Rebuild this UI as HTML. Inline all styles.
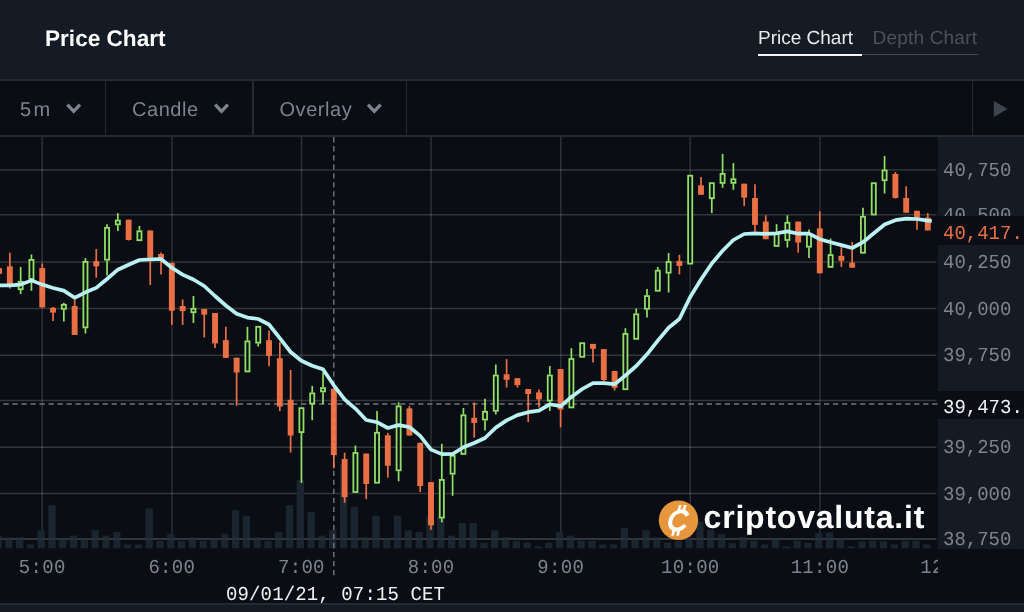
<!DOCTYPE html>
<html lang="en"><head><meta charset="utf-8"><title>Price Chart</title>
<style>
*{box-sizing:border-box;margin:0;padding:0}
html,body{width:1024px;height:612px;overflow:hidden;background:#0a0e14;}
body{position:relative;font-family:"Liberation Sans",sans-serif;color:#fff;text-rendering:geometricPrecision}
.hdr{position:absolute;left:0;top:0;width:1024px;height:79px;background:#151b24}
.hline{position:absolute;left:0;top:78.9px;width:1024px;height:2.1px;background:#262b33}
.title{position:absolute;left:45px;top:26.3px;font-size:22.6px;font-weight:700;line-height:26px;letter-spacing:0;color:#fdfdfd;white-space:nowrap}
.tab{position:absolute;top:26.5px;font-size:19px;line-height:24px;white-space:nowrap}
.t1{left:758px;color:#e9eaeb}
.t2{left:872.5px;color:#4b5159;letter-spacing:0.2px}
.ul1{position:absolute;left:758px;top:53.6px;width:104px;height:2px;background:#f4f4f4}
.ul2{position:absolute;left:862px;top:54.3px;width:115.5px;height:1.2px;background:#454b53}
.tb{position:absolute;left:0;top:80px;width:1024px;height:56px;background:#0a0e14}
.tbline{position:absolute;left:0;top:134.8px;width:1024px;height:2.1px;background:#252a31}
.dv{position:absolute;top:80px;width:1.7px;height:56px;background:#262b32}
.tt{position:absolute;top:96.5px;font-size:20px;line-height:26px;letter-spacing:0.55px;color:#7e848d;white-space:nowrap}
.axr{position:absolute;left:937.6px;top:137px;width:87px;height:411.7px;background:#161b23;overflow:hidden}
.pl,.tl,.cur,.xh,.dt{text-rendering:geometricPrecision;font-family:"Liberation Mono",monospace;font-size:19px;line-height:22px;white-space:nowrap;position:absolute}
.pl,.tl,.dt,.cur span,.xh span{transform:scaleY(1.045);transform-origin:50% 50%}
.cur span,.xh span{display:inline-block}
.pl{left:943px;color:#7e848d}
.tl{top:9.0px;letter-spacing:0.3px;width:80px;text-align:center;color:#7e848d}
.cur{left:937.5px;top:216px;width:87px;height:28.6px;background:#0a0e14;color:#ea6f44;padding:6.5px 0 0 5.5px}
.xh{left:937.5px;top:390.6px;width:87px;height:28.4px;background:#0a0e14;color:#f2f2f2;padding:6.2px 0 0 5.5px}
.dt{left:226px;top:583.5px;letter-spacing:0.13px;color:#f2f2f2}
.bot{position:absolute;left:0;top:602.8px;width:1024px;height:9.2px;background:#151b24;border-top:2.1px solid #252a32}
.clip{position:absolute;left:0;top:548px;width:937.5px;height:55px;overflow:hidden}
.logo{position:absolute;left:703.6px;top:499.1px;font-size:32px;font-weight:700;line-height:36px;letter-spacing:0.78px;color:#fff;white-space:nowrap}
svg{position:absolute;left:0;top:0}
</style></head>
<body>
<div class="hdr"></div>
<div class="title">Price Chart</div>
<div class="tab t1">Price Chart</div>
<div class="tab t2">Depth Chart</div>
<div class="ul2"></div><div class="ul1"></div>
<div class="tb"></div>
<div class="dv" style="left:104.5px"></div>
<div class="dv" style="left:252.2px"></div>
<div class="dv" style="left:405.6px"></div>
<div class="dv" style="left:971.8px"></div>
<div class="tt" style="left:20px;letter-spacing:2.3px">5m</div>
<div class="tt" style="left:132px">Candle</div>
<div class="tt" style="left:279.5px">Overlay</div>
<div class="tbline"></div>
<div class="hline"></div>
<div class="axr"></div>
<div class="pl" style="top:160.05px">40,750</div>
<div class="pl" style="top:204.95px">40,500</div>
<div class="pl" style="top:252.05px">40,250</div>
<div class="pl" style="top:298.75px">40,000</div>
<div class="pl" style="top:345.45px">39,750</div>
<div class="pl" style="top:390.65px">39,500</div>
<div class="pl" style="top:437.45px">39,250</div>
<div class="pl" style="top:483.65px">39,000</div>
<div class="pl" style="top:529.15px">38,750</div>
<svg width="1024" height="612" viewBox="0 0 1024 612">
<line x1="0" x2="936.5" y1="169.9" y2="169.9" stroke="#fff" stroke-opacity="0.165" stroke-width="1.5"/>
<line x1="0" x2="936.5" y1="214.8" y2="214.8" stroke="#fff" stroke-opacity="0.165" stroke-width="1.5"/>
<line x1="0" x2="936.5" y1="261.9" y2="261.9" stroke="#fff" stroke-opacity="0.165" stroke-width="1.5"/>
<line x1="0" x2="936.5" y1="308.6" y2="308.6" stroke="#fff" stroke-opacity="0.165" stroke-width="1.5"/>
<line x1="0" x2="936.5" y1="355.3" y2="355.3" stroke="#fff" stroke-opacity="0.165" stroke-width="1.5"/>
<line x1="0" x2="936.5" y1="400.5" y2="400.5" stroke="#fff" stroke-opacity="0.165" stroke-width="1.5"/>
<line x1="0" x2="936.5" y1="447.3" y2="447.3" stroke="#fff" stroke-opacity="0.165" stroke-width="1.5"/>
<line x1="0" x2="936.5" y1="493.5" y2="493.5" stroke="#fff" stroke-opacity="0.165" stroke-width="1.5"/>
<line x1="0" x2="936.5" y1="539.0" y2="539.0" stroke="#fff" stroke-opacity="0.165" stroke-width="1.5"/>
<line x1="42.2" x2="42.2" y1="137" y2="548" stroke="#fff" stroke-opacity="0.145" stroke-width="1.5"/>
<line x1="172.0" x2="172.0" y1="137" y2="548" stroke="#fff" stroke-opacity="0.145" stroke-width="1.5"/>
<line x1="301.5" x2="301.5" y1="137" y2="548" stroke="#fff" stroke-opacity="0.145" stroke-width="1.5"/>
<line x1="431.0" x2="431.0" y1="137" y2="548" stroke="#fff" stroke-opacity="0.145" stroke-width="1.5"/>
<line x1="560.8" x2="560.8" y1="137" y2="548" stroke="#fff" stroke-opacity="0.145" stroke-width="1.5"/>
<line x1="690.2" x2="690.2" y1="137" y2="548" stroke="#fff" stroke-opacity="0.145" stroke-width="1.5"/>
<line x1="819.9" x2="819.9" y1="137" y2="548" stroke="#fff" stroke-opacity="0.145" stroke-width="1.5"/>
<rect x="-5.65" y="535.6" width="7.3" height="12.7" fill="#1b2530"/>
<rect x="5.15" y="537.3" width="7.3" height="11.0" fill="#1b2530"/>
<rect x="15.95" y="537.3" width="7.3" height="11.0" fill="#1b2530"/>
<rect x="26.75" y="544.5" width="7.3" height="3.8" fill="#1b2530"/>
<rect x="37.55" y="530.2" width="7.3" height="18.1" fill="#1b2530"/>
<rect x="48.35" y="505.2" width="7.3" height="43.1" fill="#1b2530"/>
<rect x="59.15" y="539.1" width="7.3" height="9.2" fill="#1b2530"/>
<rect x="69.95" y="535.6" width="7.3" height="12.7" fill="#1b2530"/>
<rect x="80.75" y="539.1" width="7.3" height="9.2" fill="#1b2530"/>
<rect x="91.55" y="530.2" width="7.3" height="18.1" fill="#1b2530"/>
<rect x="102.34" y="535.6" width="7.3" height="12.7" fill="#1b2530"/>
<rect x="113.14" y="532.1" width="7.3" height="16.2" fill="#1b2530"/>
<rect x="123.94" y="544.5" width="7.3" height="3.8" fill="#1b2530"/>
<rect x="134.74" y="544.5" width="7.3" height="3.8" fill="#1b2530"/>
<rect x="145.54" y="508.2" width="7.3" height="40.1" fill="#1b2530"/>
<rect x="156.34" y="541" width="7.3" height="7.3" fill="#1b2530"/>
<rect x="167.14" y="533.7" width="7.3" height="14.6" fill="#1b2530"/>
<rect x="177.94" y="541" width="7.3" height="7.3" fill="#1b2530"/>
<rect x="188.74" y="537.3" width="7.3" height="11.0" fill="#1b2530"/>
<rect x="199.53" y="541" width="7.3" height="7.3" fill="#1b2530"/>
<rect x="210.33" y="539.1" width="7.3" height="9.2" fill="#1b2530"/>
<rect x="221.13" y="533.7" width="7.3" height="14.6" fill="#1b2530"/>
<rect x="231.93" y="510.3" width="7.3" height="38.0" fill="#1b2530"/>
<rect x="242.73" y="515.7" width="7.3" height="32.6" fill="#1b2530"/>
<rect x="253.53" y="537.3" width="7.3" height="11.0" fill="#1b2530"/>
<rect x="264.33" y="541" width="7.3" height="7.3" fill="#1b2530"/>
<rect x="275.13" y="532.1" width="7.3" height="16.2" fill="#1b2530"/>
<rect x="285.93" y="505.2" width="7.3" height="43.1" fill="#1b2530"/>
<rect x="296.73" y="479.8" width="7.3" height="68.5" fill="#1b2530"/>
<rect x="307.52" y="512.2" width="7.3" height="36.1" fill="#1b2530"/>
<rect x="318.32" y="535.6" width="7.3" height="12.7" fill="#1b2530"/>
<rect x="329.12" y="530.2" width="7.3" height="18.1" fill="#1b2530"/>
<rect x="339.92" y="464" width="7.3" height="84.3" fill="#1b2530"/>
<rect x="350.72" y="506.8" width="7.3" height="41.5" fill="#1b2530"/>
<rect x="361.52" y="537.3" width="7.3" height="11.0" fill="#1b2530"/>
<rect x="372.32" y="515.7" width="7.3" height="32.6" fill="#1b2530"/>
<rect x="383.12" y="539.1" width="7.3" height="9.2" fill="#1b2530"/>
<rect x="393.92" y="515.7" width="7.3" height="32.6" fill="#1b2530"/>
<rect x="404.72" y="530.2" width="7.3" height="18.1" fill="#1b2530"/>
<rect x="415.51" y="532.1" width="7.3" height="16.2" fill="#1b2530"/>
<rect x="426.31" y="515.5" width="7.3" height="32.8" fill="#1b2530"/>
<rect x="437.11" y="515.5" width="7.3" height="32.8" fill="#1b2530"/>
<rect x="447.91" y="535.6" width="7.3" height="12.7" fill="#1b2530"/>
<rect x="458.71" y="523" width="7.3" height="25.3" fill="#1b2530"/>
<rect x="469.51" y="523" width="7.3" height="25.3" fill="#1b2530"/>
<rect x="480.31" y="542.6" width="7.3" height="5.7" fill="#1b2530"/>
<rect x="491.11" y="530.2" width="7.3" height="18.1" fill="#1b2530"/>
<rect x="501.91" y="537.3" width="7.3" height="11.0" fill="#1b2530"/>
<rect x="512.71" y="541" width="7.3" height="7.3" fill="#1b2530"/>
<rect x="523.50" y="542.6" width="7.3" height="5.7" fill="#1b2530"/>
<rect x="534.30" y="546.2" width="7.3" height="2.1" fill="#1b2530"/>
<rect x="545.10" y="542.6" width="7.3" height="5.7" fill="#1b2530"/>
<rect x="555.90" y="532.1" width="7.3" height="16.2" fill="#1b2530"/>
<rect x="566.70" y="535.6" width="7.3" height="12.7" fill="#1b2530"/>
<rect x="577.50" y="541" width="7.3" height="7.3" fill="#1b2530"/>
<rect x="588.30" y="541" width="7.3" height="7.3" fill="#1b2530"/>
<rect x="599.10" y="544.5" width="7.3" height="3.8" fill="#1b2530"/>
<rect x="609.90" y="544.5" width="7.3" height="3.8" fill="#1b2530"/>
<rect x="620.70" y="528.1" width="7.3" height="20.2" fill="#1b2530"/>
<rect x="631.49" y="539.1" width="7.3" height="9.2" fill="#1b2530"/>
<rect x="642.29" y="530.2" width="7.3" height="18.1" fill="#1b2530"/>
<rect x="653.09" y="537.3" width="7.3" height="11.0" fill="#1b2530"/>
<rect x="663.89" y="542.6" width="7.3" height="5.7" fill="#1b2530"/>
<rect x="674.69" y="541" width="7.3" height="7.3" fill="#1b2530"/>
<rect x="685.49" y="538" width="7.3" height="10.3" fill="#1b2530"/>
<rect x="696.29" y="521.5" width="7.3" height="26.8" fill="#1b2530"/>
<rect x="707.09" y="529.8" width="7.3" height="18.5" fill="#1b2530"/>
<rect x="717.89" y="534" width="7.3" height="14.3" fill="#1b2530"/>
<rect x="728.69" y="543.2" width="7.3" height="5.1" fill="#1b2530"/>
<rect x="739.48" y="537.1" width="7.3" height="11.2" fill="#1b2530"/>
<rect x="750.28" y="540.8" width="7.3" height="7.5" fill="#1b2530"/>
<rect x="761.08" y="544.5" width="7.3" height="3.8" fill="#1b2530"/>
<rect x="771.88" y="539.1" width="7.3" height="9.2" fill="#1b2530"/>
<rect x="782.68" y="546.4" width="7.3" height="1.9" fill="#1b2530"/>
<rect x="793.48" y="540.8" width="7.3" height="7.5" fill="#1b2530"/>
<rect x="804.28" y="542.8" width="7.3" height="5.5" fill="#1b2530"/>
<rect x="815.08" y="533" width="7.3" height="15.3" fill="#1b2530"/>
<rect x="825.88" y="532.3" width="7.3" height="16.0" fill="#1b2530"/>
<rect x="836.68" y="539.1" width="7.3" height="9.2" fill="#1b2530"/>
<rect x="847.47" y="546.2" width="7.3" height="2.1" fill="#1b2530"/>
<rect x="858.27" y="541.5" width="7.3" height="6.8" fill="#1b2530"/>
<rect x="869.07" y="540.8" width="7.3" height="7.5" fill="#1b2530"/>
<rect x="879.87" y="541.5" width="7.3" height="6.8" fill="#1b2530"/>
<rect x="890.67" y="544.5" width="7.3" height="3.8" fill="#1b2530"/>
<rect x="901.47" y="540.8" width="7.3" height="7.5" fill="#1b2530"/>
<rect x="912.27" y="540.8" width="7.3" height="7.5" fill="#1b2530"/>
<rect x="923.07" y="544.5" width="7.3" height="3.8" fill="#1b2530"/>
<line x1="0" x2="936.5" y1="539" y2="539" stroke="#ffffff" stroke-opacity="0.07" stroke-width="1.3"/>
<line x1="333.8" x2="333.8" y1="137.1" y2="575.3" stroke="#5d6269" stroke-width="1.4" stroke-dasharray="5.3 3.717"/>
<line x1="3.4" x2="937.6" y1="404" y2="404" stroke="#5d6269" stroke-width="1.4" stroke-dasharray="5.3 3.717"/>
<line x1="-0.95" x2="-0.95" y1="268.1" y2="273.8" stroke="#ea6f44" stroke-width="1.7"/>
<rect x="-3.90" y="268.1" width="5.9" height="5.7" fill="#ea6f44"/>
<line x1="9.85" x2="9.85" y1="252.7" y2="288.5" stroke="#ea6f44" stroke-width="1.7"/>
<rect x="6.90" y="266.3" width="5.9" height="20.7" fill="#ea6f44"/>
<line x1="20.65" x2="20.65" y1="267" y2="281" stroke="#90e066" stroke-width="1.7"/>
<line x1="20.65" x2="20.65" y1="290" y2="294" stroke="#90e066" stroke-width="1.7"/>
<rect x="18.60" y="281.8" width="4.1" height="7.4" fill="#0a0e14" stroke="#90e066" stroke-width="1.8"/>
<line x1="31.45" x2="31.45" y1="254.5" y2="259.1" stroke="#90e066" stroke-width="1.7"/>
<line x1="31.45" x2="31.45" y1="279.7" y2="290.8" stroke="#90e066" stroke-width="1.7"/>
<rect x="29.40" y="259.9" width="4.1" height="19.0" fill="#0a0e14" stroke="#90e066" stroke-width="1.8"/>
<line x1="42.25" x2="42.25" y1="263.5" y2="307.4" stroke="#ea6f44" stroke-width="1.7"/>
<rect x="39.30" y="268.1" width="5.9" height="39.3" fill="#ea6f44"/>
<line x1="53.05" x2="53.05" y1="307" y2="321" stroke="#ea6f44" stroke-width="1.7"/>
<rect x="50.10" y="307.8" width="5.9" height="4.8" fill="#ea6f44"/>
<line x1="63.85" x2="63.85" y1="302.7" y2="304" stroke="#90e066" stroke-width="1.7"/>
<line x1="63.85" x2="63.85" y1="309.6" y2="321.4" stroke="#90e066" stroke-width="1.7"/>
<rect x="61.80" y="304.8" width="4.1" height="4.0" fill="#0a0e14" stroke="#90e066" stroke-width="1.8"/>
<line x1="74.65" x2="74.65" y1="299.8" y2="335" stroke="#ea6f44" stroke-width="1.7"/>
<rect x="71.70" y="306" width="5.9" height="29.0" fill="#ea6f44"/>
<line x1="85.45" x2="85.45" y1="258.1" y2="261.1" stroke="#90e066" stroke-width="1.7"/>
<line x1="85.45" x2="85.45" y1="328.2" y2="333.5" stroke="#90e066" stroke-width="1.7"/>
<rect x="83.40" y="261.9" width="4.1" height="65.5" fill="#0a0e14" stroke="#90e066" stroke-width="1.8"/>
<line x1="96.25" x2="96.25" y1="249" y2="277.7" stroke="#ea6f44" stroke-width="1.7"/>
<rect x="93.30" y="261.1" width="5.9" height="5.2" fill="#ea6f44"/>
<line x1="107.04" x2="107.04" y1="224.2" y2="227" stroke="#90e066" stroke-width="1.7"/>
<line x1="107.04" x2="107.04" y1="260.5" y2="275.6" stroke="#90e066" stroke-width="1.7"/>
<rect x="104.99" y="227.8" width="4.1" height="31.9" fill="#0a0e14" stroke="#90e066" stroke-width="1.8"/>
<line x1="117.84" x2="117.84" y1="213.2" y2="219.7" stroke="#90e066" stroke-width="1.7"/>
<line x1="117.84" x2="117.84" y1="225.2" y2="231" stroke="#90e066" stroke-width="1.7"/>
<rect x="115.79" y="220.5" width="4.1" height="3.9" fill="#0a0e14" stroke="#90e066" stroke-width="1.8"/>
<line x1="128.64" x2="128.64" y1="219.7" y2="240.5" stroke="#ea6f44" stroke-width="1.7"/>
<rect x="125.69" y="219.7" width="5.9" height="20.3" fill="#ea6f44"/>
<line x1="139.44" x2="139.44" y1="226" y2="230.5" stroke="#90e066" stroke-width="1.7"/>
<rect x="137.39" y="231.3" width="4.1" height="8.9" fill="#0a0e14" stroke="#90e066" stroke-width="1.8"/>
<line x1="150.24" x2="150.24" y1="230.5" y2="285" stroke="#ea6f44" stroke-width="1.7"/>
<rect x="147.29" y="230.5" width="5.9" height="27.0" fill="#ea6f44"/>
<line x1="161.04" x2="161.04" y1="252.6" y2="274.6" stroke="#ea6f44" stroke-width="1.7"/>
<rect x="158.09" y="254" width="5.9" height="4.3" fill="#ea6f44"/>
<line x1="171.84" x2="171.84" y1="262.8" y2="324.9" stroke="#ea6f44" stroke-width="1.7"/>
<rect x="168.89" y="262.8" width="5.9" height="47.9" fill="#ea6f44"/>
<line x1="182.64" x2="182.64" y1="299.5" y2="324.9" stroke="#ea6f44" stroke-width="1.7"/>
<rect x="179.69" y="306" width="5.9" height="5.1" fill="#ea6f44"/>
<line x1="193.44" x2="193.44" y1="296" y2="308" stroke="#90e066" stroke-width="1.7"/>
<line x1="193.44" x2="193.44" y1="313" y2="323" stroke="#90e066" stroke-width="1.7"/>
<rect x="191.39" y="308.8" width="4.1" height="3.4" fill="#0a0e14" stroke="#90e066" stroke-width="1.8"/>
<line x1="204.23" x2="204.23" y1="309" y2="337.5" stroke="#ea6f44" stroke-width="1.7"/>
<rect x="201.28" y="309" width="5.9" height="5.6" fill="#ea6f44"/>
<line x1="215.03" x2="215.03" y1="313" y2="348.1" stroke="#ea6f44" stroke-width="1.7"/>
<rect x="212.08" y="313" width="5.9" height="30.4" fill="#ea6f44"/>
<line x1="225.83" x2="225.83" y1="326.8" y2="357.9" stroke="#ea6f44" stroke-width="1.7"/>
<rect x="222.88" y="340.1" width="5.9" height="17.8" fill="#ea6f44"/>
<line x1="236.63" x2="236.63" y1="357.7" y2="405.8" stroke="#ea6f44" stroke-width="1.7"/>
<rect x="233.68" y="357.7" width="5.9" height="14.8" fill="#ea6f44"/>
<line x1="247.43" x2="247.43" y1="326.9" y2="340.6" stroke="#90e066" stroke-width="1.7"/>
<rect x="245.38" y="341.4" width="4.1" height="30.0" fill="#0a0e14" stroke="#90e066" stroke-width="1.8"/>
<line x1="258.23" x2="258.23" y1="343.5" y2="346.5" stroke="#90e066" stroke-width="1.7"/>
<rect x="256.18" y="326.8" width="4.1" height="15.9" fill="#0a0e14" stroke="#90e066" stroke-width="1.8"/>
<line x1="269.03" x2="269.03" y1="330.4" y2="366.3" stroke="#ea6f44" stroke-width="1.7"/>
<rect x="266.08" y="340.2" width="5.9" height="15.7" fill="#ea6f44"/>
<line x1="279.83" x2="279.83" y1="342.2" y2="411.1" stroke="#ea6f44" stroke-width="1.7"/>
<rect x="276.88" y="358.2" width="5.9" height="48.3" fill="#ea6f44"/>
<line x1="290.63" x2="290.63" y1="370" y2="452.5" stroke="#ea6f44" stroke-width="1.7"/>
<rect x="287.68" y="399.8" width="5.9" height="35.7" fill="#ea6f44"/>
<line x1="301.43" x2="301.43" y1="432.9" y2="482.9" stroke="#90e066" stroke-width="1.7"/>
<rect x="299.38" y="408.2" width="4.1" height="23.9" fill="#0a0e14" stroke="#90e066" stroke-width="1.8"/>
<line x1="312.22" x2="312.22" y1="385.9" y2="392.6" stroke="#90e066" stroke-width="1.7"/>
<line x1="312.22" x2="312.22" y1="404.4" y2="420.2" stroke="#90e066" stroke-width="1.7"/>
<rect x="310.17" y="393.4" width="4.1" height="10.2" fill="#0a0e14" stroke="#90e066" stroke-width="1.8"/>
<line x1="323.02" x2="323.02" y1="372.5" y2="387.3" stroke="#90e066" stroke-width="1.7"/>
<line x1="323.02" x2="323.02" y1="392.2" y2="403.9" stroke="#90e066" stroke-width="1.7"/>
<rect x="320.97" y="388.1" width="4.1" height="3.3" fill="#0a0e14" stroke="#90e066" stroke-width="1.8"/>
<line x1="333.82" x2="333.82" y1="388.7" y2="468.3" stroke="#ea6f44" stroke-width="1.7"/>
<rect x="330.87" y="388.7" width="5.9" height="66.4" fill="#ea6f44"/>
<line x1="344.62" x2="344.62" y1="452.6" y2="502.7" stroke="#ea6f44" stroke-width="1.7"/>
<rect x="341.67" y="459" width="5.9" height="38.2" fill="#ea6f44"/>
<line x1="355.42" x2="355.42" y1="445.5" y2="452.2" stroke="#90e066" stroke-width="1.7"/>
<rect x="353.37" y="453.0" width="4.1" height="39.0" fill="#0a0e14" stroke="#90e066" stroke-width="1.8"/>
<line x1="366.22" x2="366.22" y1="453.6" y2="499.2" stroke="#ea6f44" stroke-width="1.7"/>
<rect x="363.27" y="453.6" width="5.9" height="30.4" fill="#ea6f44"/>
<line x1="377.02" x2="377.02" y1="411.1" y2="432" stroke="#90e066" stroke-width="1.7"/>
<rect x="374.97" y="432.8" width="4.1" height="49.9" fill="#0a0e14" stroke="#90e066" stroke-width="1.8"/>
<line x1="387.82" x2="387.82" y1="432.9" y2="477.6" stroke="#ea6f44" stroke-width="1.7"/>
<rect x="384.87" y="435.3" width="5.9" height="30.4" fill="#ea6f44"/>
<line x1="398.62" x2="398.62" y1="402.3" y2="405.6" stroke="#90e066" stroke-width="1.7"/>
<line x1="398.62" x2="398.62" y1="471.1" y2="481.3" stroke="#90e066" stroke-width="1.7"/>
<rect x="396.57" y="406.4" width="4.1" height="63.9" fill="#0a0e14" stroke="#90e066" stroke-width="1.8"/>
<line x1="409.42" x2="409.42" y1="406.1" y2="435.5" stroke="#ea6f44" stroke-width="1.7"/>
<rect x="406.47" y="408.4" width="5.9" height="27.1" fill="#ea6f44"/>
<line x1="420.21" x2="420.21" y1="442.8" y2="492.1" stroke="#ea6f44" stroke-width="1.7"/>
<rect x="417.26" y="442.8" width="5.9" height="43.2" fill="#ea6f44"/>
<line x1="431.01" x2="431.01" y1="482.1" y2="529.8" stroke="#ea6f44" stroke-width="1.7"/>
<rect x="428.06" y="482.1" width="5.9" height="43.2" fill="#ea6f44"/>
<line x1="441.81" x2="441.81" y1="443.8" y2="479.1" stroke="#90e066" stroke-width="1.7"/>
<line x1="441.81" x2="441.81" y1="518.4" y2="522.4" stroke="#90e066" stroke-width="1.7"/>
<rect x="439.76" y="479.9" width="4.1" height="37.7" fill="#0a0e14" stroke="#90e066" stroke-width="1.8"/>
<line x1="452.61" x2="452.61" y1="453" y2="455" stroke="#90e066" stroke-width="1.7"/>
<line x1="452.61" x2="452.61" y1="474.5" y2="495.8" stroke="#90e066" stroke-width="1.7"/>
<rect x="450.56" y="455.8" width="4.1" height="17.9" fill="#0a0e14" stroke="#90e066" stroke-width="1.8"/>
<line x1="463.41" x2="463.41" y1="408" y2="414.5" stroke="#90e066" stroke-width="1.7"/>
<rect x="461.36" y="415.3" width="4.1" height="38.6" fill="#0a0e14" stroke="#90e066" stroke-width="1.8"/>
<line x1="474.21" x2="474.21" y1="402.4" y2="437.6" stroke="#ea6f44" stroke-width="1.7"/>
<rect x="471.26" y="417.8" width="5.9" height="5.1" fill="#ea6f44"/>
<line x1="485.01" x2="485.01" y1="398.8" y2="411" stroke="#90e066" stroke-width="1.7"/>
<line x1="485.01" x2="485.01" y1="420.4" y2="430.6" stroke="#90e066" stroke-width="1.7"/>
<rect x="482.96" y="411.8" width="4.1" height="7.8" fill="#0a0e14" stroke="#90e066" stroke-width="1.8"/>
<line x1="495.81" x2="495.81" y1="364.5" y2="374.7" stroke="#90e066" stroke-width="1.7"/>
<line x1="495.81" x2="495.81" y1="411.6" y2="414.5" stroke="#90e066" stroke-width="1.7"/>
<rect x="493.76" y="375.5" width="4.1" height="35.3" fill="#0a0e14" stroke="#90e066" stroke-width="1.8"/>
<line x1="506.61" x2="506.61" y1="359.2" y2="387.6" stroke="#ea6f44" stroke-width="1.7"/>
<rect x="503.66" y="374.3" width="5.9" height="5.5" fill="#ea6f44"/>
<line x1="517.41" x2="517.41" y1="378.2" y2="387.6" stroke="#ea6f44" stroke-width="1.7"/>
<rect x="514.46" y="378.2" width="5.9" height="6.9" fill="#ea6f44"/>
<line x1="528.20" x2="528.20" y1="389" y2="422" stroke="#ea6f44" stroke-width="1.7"/>
<rect x="525.25" y="389" width="5.9" height="5.0" fill="#ea6f44"/>
<line x1="539.00" x2="539.00" y1="389.6" y2="407.6" stroke="#ea6f44" stroke-width="1.7"/>
<rect x="536.05" y="392.4" width="5.9" height="7.0" fill="#ea6f44"/>
<line x1="549.80" x2="549.80" y1="366.1" y2="374.7" stroke="#90e066" stroke-width="1.7"/>
<line x1="549.80" x2="549.80" y1="401.4" y2="411" stroke="#90e066" stroke-width="1.7"/>
<rect x="547.75" y="375.5" width="4.1" height="25.1" fill="#0a0e14" stroke="#90e066" stroke-width="1.8"/>
<line x1="560.60" x2="560.60" y1="369" y2="427.3" stroke="#ea6f44" stroke-width="1.7"/>
<rect x="557.65" y="369" width="5.9" height="40.6" fill="#ea6f44"/>
<line x1="571.40" x2="571.40" y1="348.2" y2="358.2" stroke="#90e066" stroke-width="1.7"/>
<rect x="569.35" y="359.0" width="4.1" height="48.4" fill="#0a0e14" stroke="#90e066" stroke-width="1.8"/>
<rect x="580.15" y="343.2" width="4.1" height="13.6" fill="#0a0e14" stroke="#90e066" stroke-width="1.8"/>
<line x1="593.00" x2="593.00" y1="343.9" y2="362.5" stroke="#ea6f44" stroke-width="1.7"/>
<rect x="590.05" y="343.9" width="5.9" height="4.9" fill="#ea6f44"/>
<line x1="603.80" x2="603.80" y1="349.1" y2="381.6" stroke="#ea6f44" stroke-width="1.7"/>
<rect x="600.85" y="349.1" width="5.9" height="30.9" fill="#ea6f44"/>
<line x1="614.60" x2="614.60" y1="371" y2="390.5" stroke="#ea6f44" stroke-width="1.7"/>
<rect x="611.65" y="371" width="5.9" height="16.8" fill="#ea6f44"/>
<line x1="625.40" x2="625.40" y1="328.2" y2="333.1" stroke="#90e066" stroke-width="1.7"/>
<rect x="623.35" y="333.9" width="4.1" height="55.3" fill="#0a0e14" stroke="#90e066" stroke-width="1.8"/>
<line x1="636.19" x2="636.19" y1="308.6" y2="313.5" stroke="#90e066" stroke-width="1.7"/>
<rect x="634.14" y="314.3" width="4.1" height="24.5" fill="#0a0e14" stroke="#90e066" stroke-width="1.8"/>
<line x1="646.99" x2="646.99" y1="288.9" y2="295.3" stroke="#90e066" stroke-width="1.7"/>
<line x1="646.99" x2="646.99" y1="309.6" y2="317.6" stroke="#90e066" stroke-width="1.7"/>
<rect x="644.94" y="296.1" width="4.1" height="12.7" fill="#0a0e14" stroke="#90e066" stroke-width="1.8"/>
<line x1="657.79" x2="657.79" y1="267" y2="269.9" stroke="#90e066" stroke-width="1.7"/>
<rect x="655.74" y="270.7" width="4.1" height="20.0" fill="#0a0e14" stroke="#90e066" stroke-width="1.8"/>
<line x1="668.59" x2="668.59" y1="253" y2="261.2" stroke="#90e066" stroke-width="1.7"/>
<line x1="668.59" x2="668.59" y1="273.5" y2="292.5" stroke="#90e066" stroke-width="1.7"/>
<rect x="666.54" y="262.0" width="4.1" height="10.7" fill="#0a0e14" stroke="#90e066" stroke-width="1.8"/>
<line x1="679.39" x2="679.39" y1="254.8" y2="274.4" stroke="#ea6f44" stroke-width="1.7"/>
<rect x="676.44" y="260.9" width="5.9" height="5.0" fill="#ea6f44"/>
<rect x="688.14" y="175.7" width="4.1" height="87.9" fill="#0a0e14" stroke="#90e066" stroke-width="1.8"/>
<line x1="700.99" x2="700.99" y1="177" y2="194.7" stroke="#ea6f44" stroke-width="1.7"/>
<rect x="698.04" y="185.3" width="5.9" height="9.4" fill="#ea6f44"/>
<line x1="711.79" x2="711.79" y1="199" y2="213.1" stroke="#90e066" stroke-width="1.7"/>
<rect x="709.74" y="183.2" width="4.1" height="15.0" fill="#0a0e14" stroke="#90e066" stroke-width="1.8"/>
<line x1="722.59" x2="722.59" y1="153.9" y2="173.1" stroke="#90e066" stroke-width="1.7"/>
<line x1="722.59" x2="722.59" y1="183.7" y2="187.8" stroke="#90e066" stroke-width="1.7"/>
<rect x="720.54" y="173.9" width="4.1" height="9.0" fill="#0a0e14" stroke="#90e066" stroke-width="1.8"/>
<line x1="733.39" x2="733.39" y1="163.1" y2="178.4" stroke="#90e066" stroke-width="1.7"/>
<line x1="733.39" x2="733.39" y1="183.7" y2="189.8" stroke="#90e066" stroke-width="1.7"/>
<rect x="731.34" y="179.2" width="4.1" height="3.7" fill="#0a0e14" stroke="#90e066" stroke-width="1.8"/>
<line x1="744.18" x2="744.18" y1="183.7" y2="205.9" stroke="#ea6f44" stroke-width="1.7"/>
<rect x="741.23" y="183.7" width="5.9" height="13.9" fill="#ea6f44"/>
<line x1="754.98" x2="754.98" y1="184.3" y2="231.4" stroke="#ea6f44" stroke-width="1.7"/>
<rect x="752.03" y="198" width="5.9" height="26.9" fill="#ea6f44"/>
<line x1="765.78" x2="765.78" y1="215.3" y2="239.2" stroke="#ea6f44" stroke-width="1.7"/>
<rect x="762.83" y="221.6" width="5.9" height="17.6" fill="#ea6f44"/>
<line x1="776.58" x2="776.58" y1="224.1" y2="232.4" stroke="#90e066" stroke-width="1.7"/>
<rect x="774.53" y="233.2" width="4.1" height="12.7" fill="#0a0e14" stroke="#90e066" stroke-width="1.8"/>
<line x1="787.38" x2="787.38" y1="215.3" y2="222" stroke="#90e066" stroke-width="1.7"/>
<line x1="787.38" x2="787.38" y1="240.8" y2="247.5" stroke="#90e066" stroke-width="1.7"/>
<rect x="785.33" y="222.8" width="4.1" height="17.2" fill="#0a0e14" stroke="#90e066" stroke-width="1.8"/>
<line x1="798.18" x2="798.18" y1="221.6" y2="252.7" stroke="#ea6f44" stroke-width="1.7"/>
<rect x="795.23" y="221.6" width="5.9" height="20.9" fill="#ea6f44"/>
<line x1="808.98" x2="808.98" y1="229.4" y2="233.3" stroke="#90e066" stroke-width="1.7"/>
<line x1="808.98" x2="808.98" y1="247.5" y2="258.1" stroke="#90e066" stroke-width="1.7"/>
<rect x="806.93" y="234.1" width="4.1" height="12.6" fill="#0a0e14" stroke="#90e066" stroke-width="1.8"/>
<line x1="819.78" x2="819.78" y1="211.4" y2="273.3" stroke="#ea6f44" stroke-width="1.7"/>
<rect x="816.83" y="228.4" width="5.9" height="44.9" fill="#ea6f44"/>
<line x1="830.58" x2="830.58" y1="238.6" y2="254.3" stroke="#90e066" stroke-width="1.7"/>
<rect x="828.53" y="255.1" width="4.1" height="11.8" fill="#0a0e14" stroke="#90e066" stroke-width="1.8"/>
<line x1="841.38" x2="841.38" y1="247.2" y2="267" stroke="#ea6f44" stroke-width="1.7"/>
<rect x="838.43" y="255.9" width="5.9" height="4.9" fill="#ea6f44"/>
<line x1="852.17" x2="852.17" y1="242" y2="267.7" stroke="#ea6f44" stroke-width="1.7"/>
<rect x="849.22" y="262.6" width="5.9" height="5.1" fill="#ea6f44"/>
<line x1="862.97" x2="862.97" y1="207.8" y2="216" stroke="#90e066" stroke-width="1.7"/>
<rect x="860.92" y="216.8" width="4.1" height="35.9" fill="#0a0e14" stroke="#90e066" stroke-width="1.8"/>
<rect x="871.72" y="183.2" width="4.1" height="31.3" fill="#0a0e14" stroke="#90e066" stroke-width="1.8"/>
<line x1="884.57" x2="884.57" y1="155.9" y2="169.6" stroke="#90e066" stroke-width="1.7"/>
<line x1="884.57" x2="884.57" y1="181" y2="193.5" stroke="#90e066" stroke-width="1.7"/>
<rect x="882.52" y="170.4" width="4.1" height="9.8" fill="#0a0e14" stroke="#90e066" stroke-width="1.8"/>
<line x1="895.37" x2="895.37" y1="172" y2="198.5" stroke="#ea6f44" stroke-width="1.7"/>
<rect x="892.42" y="173.9" width="5.9" height="24.1" fill="#ea6f44"/>
<line x1="906.17" x2="906.17" y1="186.3" y2="212.7" stroke="#ea6f44" stroke-width="1.7"/>
<rect x="903.22" y="198" width="5.9" height="14.7" fill="#ea6f44"/>
<line x1="916.97" x2="916.97" y1="210.8" y2="229.8" stroke="#ea6f44" stroke-width="1.7"/>
<rect x="914.02" y="210.8" width="5.9" height="6.8" fill="#ea6f44"/>
<line x1="927.77" x2="927.77" y1="213.1" y2="230.4" stroke="#ea6f44" stroke-width="1.7"/>
<rect x="924.82" y="217.6" width="5.9" height="12.8" fill="#ea6f44"/>
<line x1="333.8" x2="333.8" y1="137.1" y2="575.3" stroke="#ffe6d8" stroke-opacity="0.13" stroke-width="1.4" stroke-dasharray="5.3 3.717"/>
<line x1="3.4" x2="937.6" y1="404" y2="404" stroke="#ffe6d8" stroke-opacity="0.13" stroke-width="1.4" stroke-dasharray="5.3 3.717"/>
<polyline points="-0.9,285.3 9.9,285.3 20.7,284.6 31.5,280.4 42.2,284.6 53.0,288 63.8,290.6 74.6,297.8 85.4,292.3 96.2,287.9 107.0,279 117.8,269.7 128.6,264.8 139.4,260 150.2,259.3 161.0,259 171.8,267.7 182.6,274.6 193.4,279.5 204.2,286 215.0,296 225.8,305.5 236.6,313.7 247.4,317.6 258.2,319 269.0,324.5 279.8,338.2 290.6,352 301.4,360.8 312.2,365.7 323.0,369.2 333.8,385.3 344.6,399.3 355.4,408.6 366.2,420 377.0,422.2 387.8,428 398.6,425.1 409.4,427 420.2,435.9 431.0,449.6 441.8,454.1 452.6,454 463.4,447.3 474.2,443 485.0,438 495.8,427.6 506.6,420.4 517.4,415.1 528.2,412.2 539.0,410.6 549.8,404.3 560.6,406.3 571.4,396.9 582.2,389 593.0,383.1 603.8,383.1 614.6,384.2 625.4,375.5 636.2,366 647.0,354.3 657.8,340.6 668.6,327.8 679.4,319 690.2,297 701.0,279.5 711.8,263.5 722.6,250.8 733.4,240 744.2,234 755.0,233.3 765.8,233.9 776.6,233.3 787.4,231.4 798.2,233.7 809.0,233.7 819.8,239.2 830.6,242.2 841.4,245.1 852.2,248 863.0,242.2 873.8,233.3 884.6,224.5 895.4,220.2 906.2,218.6 917.0,219 927.8,220.6 931.8,221" fill="none" stroke="#b9f1f4" stroke-width="3.7" stroke-linejoin="round" stroke-linecap="butt"/>
<g fill="none" stroke="#7e848d" stroke-width="3.3">
<polyline points="67.4,104.6 73.7,111.4 80,104.6"/>
<polyline points="215.2,104.6 221.5,111.4 227.8,104.6"/>
<polyline points="368,104.6 374.3,111.4 380.6,104.6"/>
</g>
<polygon points="993.8,101 1007.6,109 993.8,117" fill="#3f454d"/>
<circle cx="678.5" cy="520.2" r="19.7" fill="#e8963c"/>
<g transform="translate(678.7,520.4) skewX(-14)" fill="#fff">
<path d="M7.6 -4.6 A8.5 9.2 0 1 0 7.6 4.6" fill="none" stroke="#fff" stroke-width="4.0"/>
<rect x="-3.7" y="-15.3" width="2.7" height="6"/><rect x="1.3" y="-15.3" width="2.7" height="6"/>
<rect x="-3.7" y="9.3" width="2.7" height="6"/><rect x="1.3" y="9.3" width="2.7" height="6"/>
</g>
</svg>
<div class="clip">
<div class="tl" style="left:2.2px">5:00</div>
<div class="tl" style="left:131.8px">6:00</div>
<div class="tl" style="left:261.4px">7:00</div>
<div class="tl" style="left:391.1px">8:00</div>
<div class="tl" style="left:520.7px">9:00</div>
<div class="tl" style="left:650.3px">10:00</div>
<div class="tl" style="left:779.9px">11:00</div>
<div class="tl" style="left:909.5px">12:00</div>
</div>
<div class="cur"><span>40,417.</span></div>
<div class="xh"><span>39,473.</span></div>
<div class="dt">09/01/21, 07:15 CET</div>
<div class="logo">criptovaluta.it</div>
<div class="bot"></div>
</body></html>
